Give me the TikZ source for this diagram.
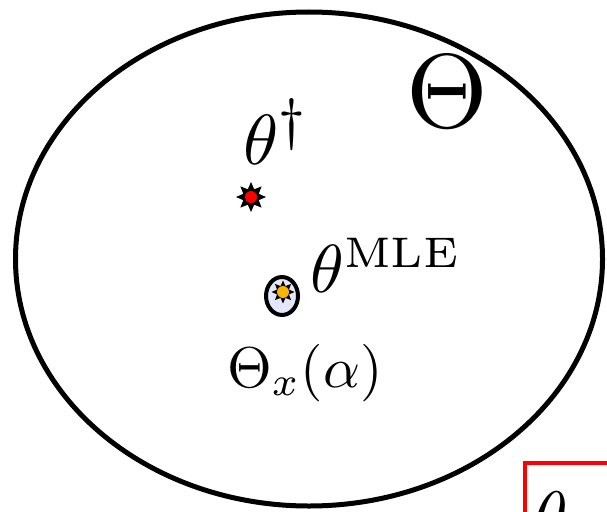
\documentclass[tikz,border=0pt]{standalone}
\usepackage{graphicx}
\usetikzlibrary{shapes.geometric}
\definecolor{sunyellow}{RGB}{247,181,0}
\definecolor{paleblue}{RGB}{228,230,250}

\begin{document}
\begin{tikzpicture}[x=1pt,y=-1pt,
    spark/.style={star,star points=8,star point ratio=1.8,fill=black,inner sep=0pt,minimum size=#1},
    dot/.style={circle,fill=#1,inner sep=0pt,minimum size=12pt},
    lbl/.style={anchor=base west,inner sep=0pt}]
    \useasboundingbox (0,0) rectangle (607,511);
    \clip (0,0) rectangle (607,511);
    \node[draw,ellipse,line width=5pt,minimum width=587pt,minimum height=494pt] (space) at (309,259) {};
    \node[lbl] (spacelbl) at (406,127) {\scalebox{10.5}{$\Theta$}};
    % true parameter
    \node[spark=30pt] (truth) at (251,197) {};
    \node[dot=red] at (truth) {};
    \node[lbl] (truthlbl) at (243,164) {\scalebox{7.1}{$\theta^{\hbox{\fontsize{8}{8}\selectfont$\dagger$}}$}};
    % estimate and its region
    \node[draw,ellipse,line width=4pt,fill=paleblue,minimum width=32pt,minimum height=38pt] (region) at (282,296) {};
    \node[spark=23pt] (mle) at (283,292) {};
    \node[dot=sunyellow] at (mle) {};
    \node[lbl] (mlelbl) at (310,292) {\scalebox{6.8}{$\theta^{\hbox{\fontsize{6.3}{7}\selectfont MLE}}$}};
    \node[lbl] (regionlbl) at (227,387) {\scalebox{5.75}{$\Theta_x(\alpha)$}};
    % next panel
    \node[draw=red,line width=4pt,anchor=north west,minimum width=200pt,minimum height=120pt] (panel) at (523,461) {};
    \node[lbl] (panellbl) at (533,540) {\scalebox{7}{$\theta$}};
\end{tikzpicture}
\end{document}
